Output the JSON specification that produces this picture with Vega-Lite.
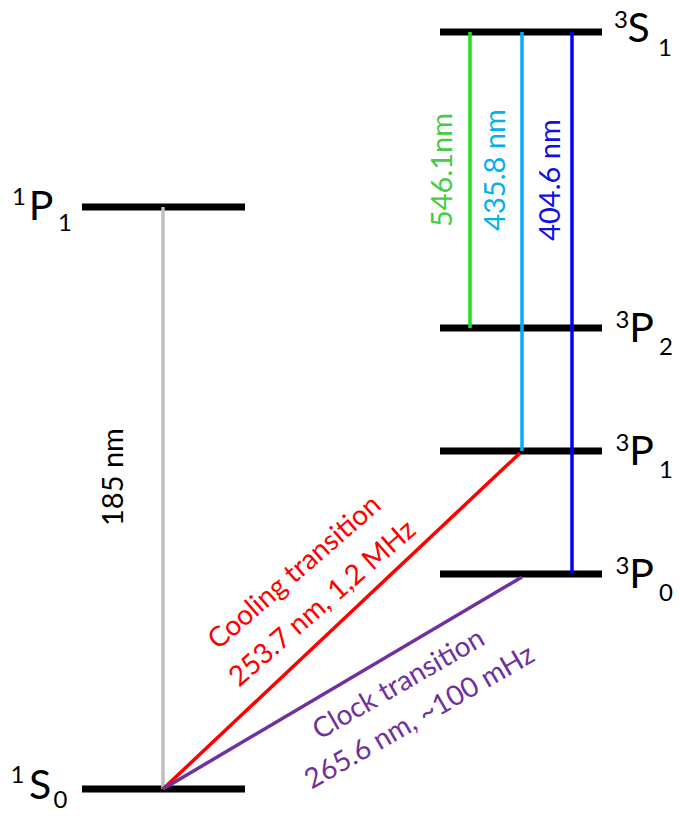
{
  "$schema": "https://vega.github.io/schema/vega-lite/v6.json",
  "width": 680,
  "height": 818,
  "autosize": {"type": "fit", "contains": "padding"},
  "padding": 0,
  "config": {"view": {"stroke": null}, "font": "Lato"},
  "datasets": {
    "levels": [
      {"state": "1S0", "x1": 82, "x2": 245, "y": 789},
      {"state": "1P1", "x1": 82, "x2": 245, "y": 207},
      {"state": "3S1", "x1": 440, "x2": 602, "y": 32},
      {"state": "3P2", "x1": 440, "x2": 602, "y": 328},
      {"state": "3P1", "x1": 440, "x2": 602, "y": 451},
      {"state": "3P0", "x1": 440, "x2": 602, "y": 574}
    ],
    "transitions": [
      {"name": "185 nm", "x1": 163, "y1": 207, "x2": 163, "y2": 789},
      {"name": "546.1nm", "x1": 470, "y1": 32, "x2": 470, "y2": 328},
      {"name": "435.8 nm", "x1": 522, "y1": 32, "x2": 522, "y2": 451},
      {"name": "404.6 nm", "x1": 572, "y1": 32, "x2": 572, "y2": 574},
      {"name": "Cooling", "x1": 163, "y1": 789, "x2": 520, "y2": 453},
      {"name": "Clock", "x1": 163, "y1": 789, "x2": 522, "y2": 577}
    ],
    "labels": [
      {"kind": "vertical", "name": "185 nm", "text": "185 nm", "x": 114, "y": 477},
      {"kind": "vertical", "name": "546.1nm", "text": "546.1nm", "x": 443, "y": 170},
      {"kind": "vertical", "name": "435.8 nm", "text": "435.8 nm", "x": 496, "y": 170},
      {"kind": "vertical", "name": "404.6 nm", "text": "404.6 nm", "x": 551, "y": 180},
      {"kind": "cooling", "name": "Cooling", "text": "Cooling transition", "x": 295, "y": 573},
      {"kind": "cooling", "name": "Cooling", "text": "253.7 nm, 1,2 MHz", "x": 323, "y": 604},
      {"kind": "clock", "name": "Clock", "text": "Clock transition", "x": 399, "y": 685},
      {"kind": "clock", "name": "Clock", "text": "265.6 nm, ~100 mHz", "x": 420, "y": 718}
    ],
    "terms": [
      {"part": "small", "text": "1", "x": 19, "y": 197.5},
      {"part": "main", "text": "P", "x": 41, "y": 208},
      {"part": "small", "text": "1", "x": 65, "y": 224},
      {"part": "small", "text": "1", "x": 17.5, "y": 776},
      {"part": "main", "text": "S", "x": 40, "y": 787},
      {"part": "small", "text": "0", "x": 60.5, "y": 801},
      {"part": "small", "text": "3", "x": 621, "y": 20.5},
      {"part": "main", "text": "S", "x": 638.5, "y": 30},
      {"part": "small", "text": "1", "x": 665, "y": 49},
      {"part": "small", "text": "3", "x": 622.5, "y": 320.5},
      {"part": "main", "text": "P", "x": 641.5, "y": 330},
      {"part": "small", "text": "2", "x": 666, "y": 347.5},
      {"part": "small", "text": "3", "x": 622.5, "y": 443.5},
      {"part": "main", "text": "P", "x": 641.5, "y": 453},
      {"part": "small", "text": "1", "x": 666, "y": 470.5},
      {"part": "small", "text": "3", "x": 622.5, "y": 566.5},
      {"part": "main", "text": "P", "x": 641.5, "y": 576},
      {"part": "small", "text": "0", "x": 666, "y": 593.5}
    ]
  },
  "layer": [
    {
      "data": {"name": "levels"},
      "mark": {"type": "rule", "strokeWidth": 7, "strokeCap": "butt", "color": "black"},
      "encoding": {
        "x": {"field": "x1", "type": "quantitative", "scale": {"domain": [0, 680], "nice": false, "zero": false}, "axis": null},
        "x2": {"field": "x2"},
        "y": {"field": "y", "type": "quantitative", "scale": {"domain": [0, 818], "nice": false, "zero": false, "reverse": true}, "axis": null}
      }
    },
    {
      "data": {"name": "transitions"},
      "mark": {"type": "rule", "strokeWidth": 3.5, "strokeCap": "butt"},
      "encoding": {
        "x": {"field": "x1", "type": "quantitative"},
        "x2": {"field": "x2"},
        "y": {"field": "y1", "type": "quantitative"},
        "y2": {"field": "y2"},
        "stroke": {
          "field": "name", "type": "nominal", "legend": null,
          "scale": {
            "domain": ["185 nm", "546.1nm", "435.8 nm", "404.6 nm", "Cooling", "Clock"],
            "range": ["#bfbfbf", "#22dd22", "#00b0f0", "#0000ff", "#ff0000", "#7030a0"]
          }
        }
      }
    },
    {
      "data": {"name": "labels"},
      "transform": [{"filter": "datum.kind === 'vertical'"}],
      "mark": {"type": "text", "angle": 270, "fontSize": 29, "align": "center", "baseline": "middle"},
      "encoding": {
        "x": {"field": "x", "type": "quantitative"},
        "y": {"field": "y", "type": "quantitative"},
        "text": {"field": "text"},
        "fill": {
          "field": "name", "type": "nominal", "legend": null,
          "scale": {
            "domain": ["185 nm", "546.1nm", "435.8 nm", "404.6 nm", "Cooling", "Clock"],
            "range": ["#000000", "#44cc44", "#00b0f0", "#1010e0", "#ff0000", "#7030a0"]
          }
        }
      }
    },
    {
      "data": {"name": "labels"},
      "transform": [{"filter": "datum.kind === 'cooling'"}],
      "mark": {"type": "text", "angle": 319, "fontSize": 28, "align": "center", "baseline": "middle"},
      "encoding": {
        "x": {"field": "x", "type": "quantitative"},
        "y": {"field": "y", "type": "quantitative"},
        "text": {"field": "text"},
        "fill": {"field": "name", "type": "nominal", "legend": null}
      }
    },
    {
      "data": {"name": "labels"},
      "transform": [{"filter": "datum.kind === 'clock'"}],
      "mark": {"type": "text", "angle": 330, "fontSize": 28, "align": "center", "baseline": "middle"},
      "encoding": {
        "x": {"field": "x", "type": "quantitative"},
        "y": {"field": "y", "type": "quantitative"},
        "text": {"field": "text"},
        "fill": {"field": "name", "type": "nominal", "legend": null}
      }
    },
    {
      "data": {"name": "terms"},
      "transform": [{"filter": "datum.part === 'main'"}],
      "mark": {"type": "text", "fontSize": 41, "align": "center", "baseline": "middle", "color": "black"},
      "encoding": {
        "x": {"field": "x", "type": "quantitative"},
        "y": {"field": "y", "type": "quantitative"},
        "text": {"field": "text"}
      }
    },
    {
      "data": {"name": "terms"},
      "transform": [{"filter": "datum.part === 'small'"}],
      "mark": {"type": "text", "fontSize": 24, "align": "center", "baseline": "middle", "color": "black"},
      "encoding": {
        "x": {"field": "x", "type": "quantitative"},
        "y": {"field": "y", "type": "quantitative"},
        "text": {"field": "text"}
      }
    }
  ]
}
